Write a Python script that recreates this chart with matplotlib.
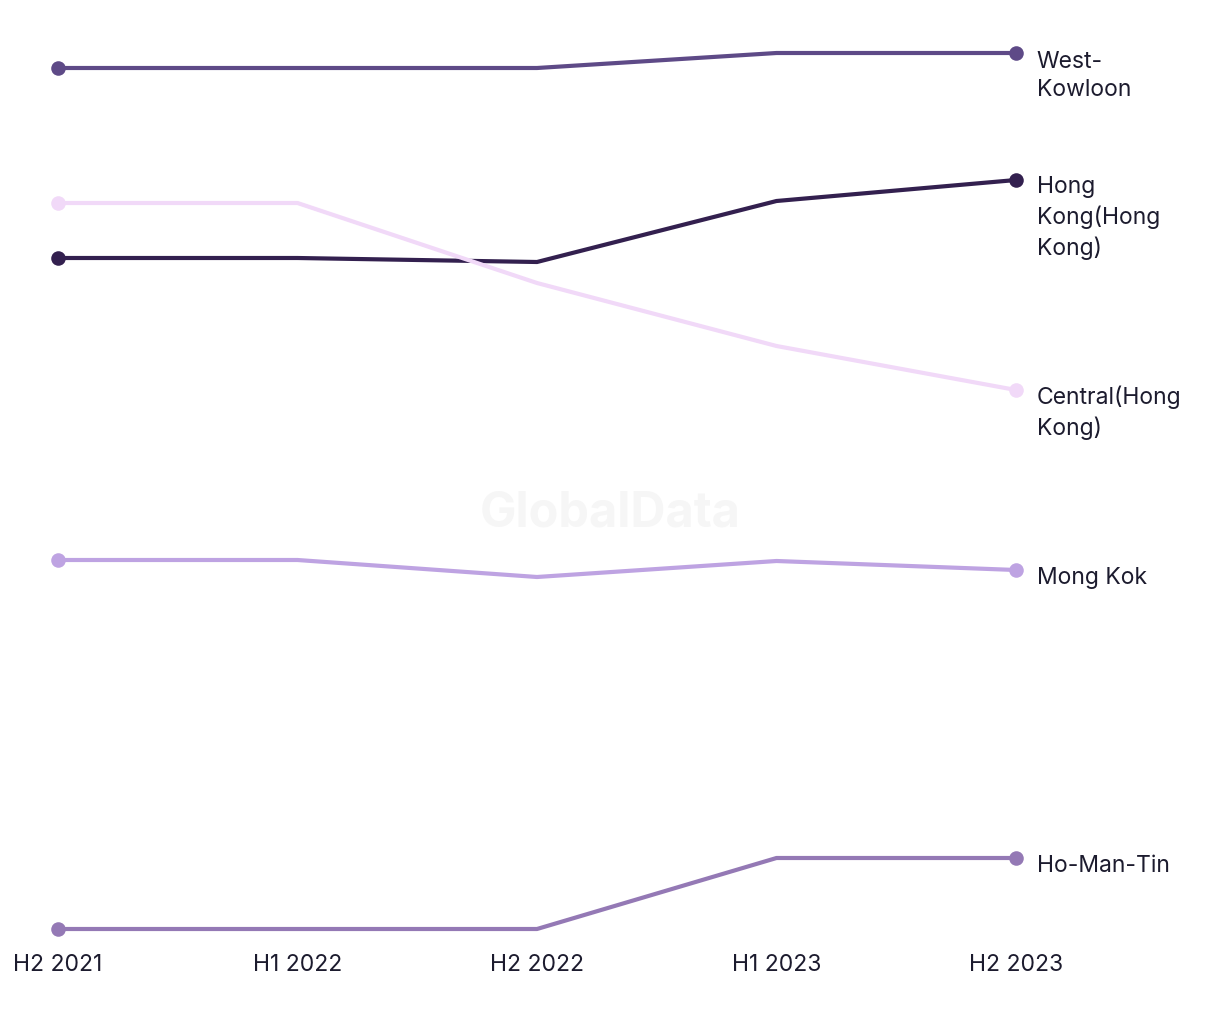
import matplotlib.pyplot as plt

# data (relative index)
periods = ["H2 2021", "H1 2022", "H2 2022", "H1 2023", "H2 2023"]
west_kowloon = [87.1, 87.1, 87.1, 88.6, 88.6]
hong_kong = [68.1, 68.1, 67.7, 73.8, 75.9]
central = [73.6, 73.6, 65.6, 59.3, 54.9]
mong_kok = [37.9, 37.9, 36.2, 37.8, 36.9]
ho_man_tin = [1.0, 1.0, 1.0, 8.1, 8.1]

series = [
    ("West-\nKowloon", west_kowloon, "#5e4a87"),
    ("Hong\nKong(Hong\nKong)", hong_kong, "#33204f"),
    ("Central(Hong\nKong)", central, "#f1d9f8"),
    ("Mong Kok", mong_kok, "#bea3e2"),
    ("Ho-Man-Tin", ho_man_tin, "#9479b5"),
]

plt.rcParams["font.family"] = ["Inter", "DejaVu Sans"]
text_color = "#1c1b2e"
fs = 16.5
line_px = 30  # distance between label lines in pixels

fig = plt.figure(figsize=(12.2, 10.2), dpi=100)
ax = fig.add_axes([58 / 1220, 90 / 1020, (1016 - 58) / 1220, (930 - 54) / 1020])

x = list(range(len(periods)))
for name, vals, color in series:
    ax.plot(x, vals, color=color, lw=3, clip_on=False, zorder=3)
    ax.scatter([x[0], x[-1]], [vals[0], vals[-1]], s=110, color=color,
               clip_on=False, zorder=4, linewidths=0)
    n = name.count("\n") + 1
    dy_px = -(7 + (n - 1) * line_px / 2)
    ax.annotate(name, (x[-1], vals[-1]), xytext=(15, dy_px * 72 / 100),
                textcoords="offset points", va="center", ha="left",
                fontsize=fs, color=text_color, linespacing=1.38)

ax.set_xlim(0, 4)
ax.set_ylim(min(ho_man_tin), max(west_kowloon))
ax.set_xticks(x)
ax.set_xticklabels(periods, fontsize=fs, color=text_color)
ax.tick_params(axis="x", length=0, pad=17)
ax.set_yticks([])
for s in ax.spines.values():
    s.set_visible(False)

fig.text(0.5, 0.497, "GlobalData", ha="center", va="center", fontsize=35,
         fontweight="bold", color="#f6f6f6", zorder=0)

fig.savefig("out.png", dpi=100)
